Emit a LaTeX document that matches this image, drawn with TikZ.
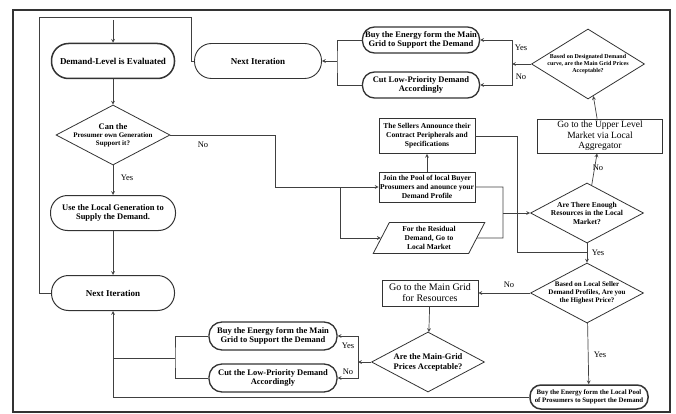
\documentclass[tikz,border=0pt]{standalone}
\usepackage{fontspec}
\setmainfont{Liberation Serif}
\usetikzlibrary{arrows,shapes.geometric}

\tikzset{
  pill/.style={draw=black!80, rectangle, line width=1pt, align=center, inner sep=1pt,
    font=\bfseries\fontsize{8.5}{9.5}\selectfont},
  box/.style={draw=black!80, rectangle, line width=0.8pt, align=center, inner sep=1pt},
  decide/.style={draw=black!80, diamond, aspect=1.9, line width=0.8pt, align=center,
    inner sep=-4pt, font=\bfseries\fontsize{7.5}{8.5}\selectfont},
  flow/.style={draw=black!75, line width=0.7pt},
  tag/.style={font=\fontsize{8.5}{9}\selectfont, inner sep=0pt},
}

\begin{document}
\begin{tikzpicture}[x=1pt,y=-1pt,>=stealth]
\useasboundingbox (0,0) rectangle (676,414);
\draw[black!80, line width=1.3pt](13,10) rectangle (670,412);
%
\node[pill, line width=1.5pt, minimum width=123pt, minimum height=35pt, rounded corners=17pt,
  font=\bfseries\fontsize{9}{10}\selectfont] (eval) at (113,61) {Demand-Level is Evaluated};
\node[pill, line width=0.9pt, minimum width=127pt, minimum height=35pt, rounded corners=17pt,
  font=\bfseries\fontsize{9}{10}\selectfont] (nexttop) at (258,61) {Next Iteration};
\node[pill, line width=1.3pt, minimum width=117pt, minimum height=26pt, rounded corners=12pt] (buytop) at (421,40) {Buy the Energy form the Main\\Grid to Support the Demand};
\node[pill, line width=1.3pt, minimum width=117pt, minimum height=26pt, rounded corners=12pt] (cuttop) at (421,85) {Cut Low-Priority Demand\\Accordingly};
\node[decide, minimum width=113pt, minimum height=70pt, font=\bfseries\fontsize{6}{6.8}\selectfont] (gridok) at (588,64) {Based on Designated Demand\\curve, are the Main Grid Prices\\Acceptable?};
\node[box, minimum width=125pt, minimum height=34pt, font=\fontsize{9.5}{10.5}\selectfont] (upper) at (600,136) {Go to the Upper Level\\Market via Local\\Aggregator};
%
\node[decide, minimum width=114pt, minimum height=60pt, font=\bfseries\fontsize{7}{8}\selectfont] (cangen) at (113,135) {{\fontsize{8.5}{9}\selectfont Can the}\\Prosumer own Generation\\Support it?};
\node[pill, minimum width=125pt, minimum height=35pt, rounded corners=17pt] (uselocal) at (113,213) {Use the Local Generation to\\Supply the Demand.};
\node[pill, minimum width=123pt, minimum height=35pt, rounded corners=17pt,
  font=\bfseries\fontsize{9}{10}\selectfont] (nextbot) at (113,293) {Next Iteration};
%
\node[box, minimum width=96pt, minimum height=35pt, font=\bfseries\fontsize{7.5}{9}\selectfont] (sellers) at (427,136) {The Sellers Announce their\\Contract Peripherals and\\Specifications};
\node[box, minimum width=96pt, minimum height=30pt, font=\bfseries\fontsize{7.5}{9}\selectfont] (join) at (427,187) {Join the Pool of local Buyer\\Prosumers and anounce your\\Demand Profile};
\node[draw=black!80, line width=0.8pt, trapezium, trapezium left angle=66, trapezium right angle=114,
  trapezium stretches=true, minimum width=112pt, minimum height=31pt, inner sep=1pt, align=center,
  font=\bfseries\fontsize{7.5}{9}\selectfont] (residual) at (429,238) {For the Residual\\Demand, Go to\\Local Market};
\node[decide, minimum width=113pt, minimum height=60pt] (enough) at (587,213) {Are There Enough\\Resources in the Local\\Market?};
\node[decide, minimum width=113pt, minimum height=60pt, font=\bfseries\fontsize{7}{8}\selectfont] (lowest) at (587,293) {Based on Local Seller\\Demand Profiles, Are you\\the Highest Price?};
\node[box, minimum width=96pt, minimum height=26pt, font=\fontsize{10}{11}\selectfont] (maingrid) at (430,293) {Go to the Main Grid\\for Resources};
\node[decide, minimum width=113pt, minimum height=60pt, font=\bfseries\fontsize{8.5}{10}\selectfont] (mgok) at (428,362) {Are the Main-Grid\\Prices Acceptable?};
\node[pill, line width=1.3pt, minimum width=128pt, minimum height=28pt, rounded corners=13pt] (buybot) at (273,336) {Buy the Energy form the Main\\Grid to Support the Demand};
\node[pill, line width=1.3pt, minimum width=128pt, minimum height=28pt, rounded corners=13pt] (cutbot) at (273,378) {Cut the Low-Priority Demand\\Accordingly};
\node[pill, line width=1.5pt, minimum width=118pt, minimum height=24pt, rounded corners=11pt,
  font=\bfseries\fontsize{6.8}{7.8}\selectfont] (buypool) at (589,397) {Buy the Energy form the Local Pool\\of Prosumers to Support the Demand};
%
\node[tag] (nolabA) at (203,145) {No};
\node[tag] (yeslabA) at (127,178) {Yes};
\node[tag] (yeslabB) at (521,48) {Yes};
\node[tag] (nolabB) at (521,77) {No};
\node[tag] (nolabC) at (598,168) {No};
\node[tag] (yeslabC) at (598,253) {Yes};
\node[tag] (nolabD) at (509,285) {No};
\node[tag] (yeslabD) at (600,355) {Yes};
\node[tag] (yeslabE) at (348,346) {Yes};
\node[tag] (nolabE) at (348,372) {No};
%
\coordinate (entry) at (113,20);
\coordinate (loopA) at (191,17);
\coordinate (loopB) at (39,293);
\coordinate (topj) at (337,61);
\coordinate (gridj) at (512,64);
\coordinate (nobend) at (275,187);
\coordinate (resbr) at (340,187);
\coordinate (rjx) at (503,238);
\coordinate (mjx) at (503,213);
\coordinate (sjx) at (517,252);
\coordinate (yesjoin) at (587,252);
\coordinate (mgj) at (358,362);
\coordinate (botj) at (175,358);
\coordinate (botk) at (113,358);
%
\draw[flow,->](entry)--(eval);
\draw[flow,->](eval)--(cangen);
\draw[flow,->](cangen)--(uselocal);
\draw[flow,->](uselocal)--(nextbot);
\draw[flow](nexttop.west)-|(loopA)-|(loopB)--(nextbot.west);
\draw[flow](buytop.west)-|(topj)|-(cuttop.west);
\draw[flow,->](topj)--(nexttop.east);
\draw[flow,->](gridok.west)--(gridj);
\draw[flow,->](gridj)|-(buytop.east);
\draw[flow,->](gridj)|-(cuttop.east);
\draw[flow,->](upper)--(gridok);
\draw[flow,->](enough)--(upper);
%
\draw[flow,->](cangen.east)-|(nobend)--(join.west);
\draw[flow,->](resbr)|-(residual.west);
\draw[flow,->](join)--(sellers);
\draw[flow](sellers.east)-|(sjx)--(yesjoin);
\draw[flow](join.east)-|(rjx)--(residual.east);
\draw[flow,->](mjx)--(enough.west);
\draw[flow,->](enough)--(lowest);
\draw[flow,->](lowest.west)--(maingrid.east);
\draw[flow,->](lowest)--(buypool);
\draw[flow,->](maingrid)--(mgok);
\draw[flow,->](mgok.west)--(mgj);
\draw[flow,->](mgj)|-(buybot.east);
\draw[flow,->](mgj)|-(cutbot.east);
\draw[flow](buybot.west)-|(botj)|-(cutbot.west);
\draw[flow](botj)--(botk);
\draw[flow,->](buypool.west)-|(nextbot.south);
\end{tikzpicture}
\end{document}
